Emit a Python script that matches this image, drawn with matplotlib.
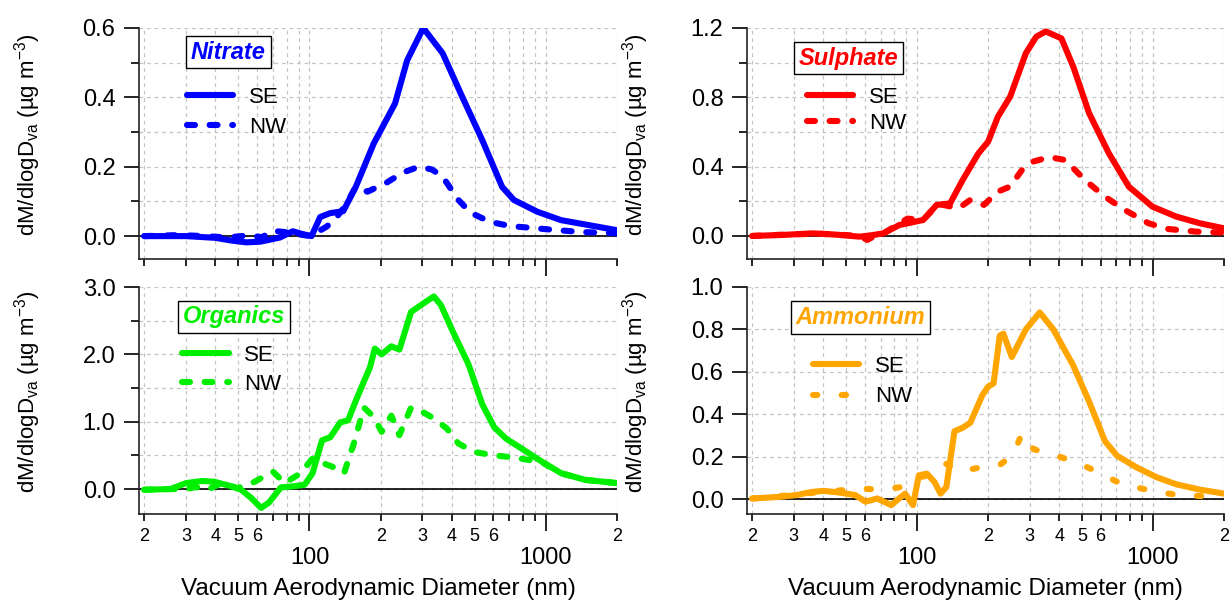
import matplotlib.pyplot as plt
import matplotlib.ticker as mticker

plt.rcParams['font.family'] = ['Liberation Sans', 'DejaVu Sans']

# size distributions, dM/dlogDva vs vacuum aerodynamic diameter (nm)
nitrate_se_d = [20, 30, 40, 47, 54, 62, 75, 85, 92, 102, 111, 122, 139, 157, 187, 230, 259,
                303, 366, 444, 538, 653, 733, 922, 1160, 2000]
nitrate_se = [0.0, 0.0, -0.005, -0.013, -0.018, -0.016, -0.004, 0.014, 0.007, 0.0, 0.055, 0.066,
              0.072, 0.142, 0.267, 0.382, 0.507, 0.600, 0.527, 0.400, 0.277, 0.142, 0.104,
              0.070, 0.046, 0.017]
nitrate_nw_d = [20, 28, 36, 45, 55, 63, 70, 78, 88, 101, 118, 127, 141, 157, 176, 213, 248,
                290, 330, 366, 427, 479, 580, 707, 1040, 1400, 2000]
nitrate_nw = [0.0, 0.003, 0.0, -0.004, 0.002, -0.003, 0.015, 0.012, 0.006, 0.0, 0.027, 0.045,
              0.085, 0.142, 0.128, 0.155, 0.183, 0.200, 0.192, 0.171, 0.104, 0.068, 0.041,
              0.029, 0.019, 0.012, 0.008]

sulphate_se_d = [20, 27, 36, 45, 57, 64, 72, 84, 106, 121, 138, 156, 182, 200, 220, 248, 289,
                 320, 351, 409, 459, 536, 650, 789, 995, 1254, 1581, 2000]
sulphate_se = [0.0, 0.006, 0.015, 0.008, -0.004, 0.004, 0.015, 0.063, 0.092, 0.179, 0.188,
               0.323, 0.477, 0.544, 0.688, 0.804, 1.054, 1.150, 1.180, 1.140, 0.977, 0.708,
               0.477, 0.285, 0.169, 0.112, 0.073, 0.044]
sulphate_nw_d = [20, 30, 40, 50, 57, 61.5, 66, 72, 91, 106, 123, 150, 168, 192, 220, 248, 278,
                 312, 364, 425, 514, 625, 759, 957, 1161, 1522, 2000]
sulphate_nw = [0.0, 0.01, 0.012, 0.005, 0.0, -0.023, 0.0, 0.015, 0.10, 0.092, 0.185, 0.16,
               0.208, 0.179, 0.256, 0.285, 0.38, 0.43, 0.455, 0.438, 0.323, 0.227, 0.15,
               0.073, 0.04, 0.025, 0.019]

organics_se_d = [20, 25.8, 30, 35, 39.4, 45.8, 51.4, 56.6, 62.4, 67.4, 75.7, 84.9, 95.3, 103,
                 113, 122.5, 135, 145.6, 157, 170, 180, 189, 202, 222, 240, 269, 303, 336,
                 360, 404, 471, 538, 604, 678, 791, 959, 1162, 1465, 2000]
organics_se = [-0.01, 0.0, 0.088, 0.12, 0.11, 0.05, -0.01, -0.13, -0.28, -0.20, 0.025, 0.04,
               0.064, 0.235, 0.724, 0.77, 0.99, 1.02, 1.31, 1.60, 1.80, 2.085, 2.0, 2.12,
               2.07, 2.63, 2.755, 2.86, 2.73, 2.34, 1.85, 1.26, 0.92, 0.75, 0.60, 0.41,
               0.235, 0.137, 0.088]
organics_nw_d = [20, 25, 30, 33, 37, 42.5, 49.6, 57.8, 70, 78.6, 91.6, 103, 115, 129.8, 140,
                 154, 170, 187, 202, 222, 240, 269, 303, 339, 381, 427, 499, 604, 733, 854,
                 959, 1162, 1465, 2000]
organics_nw = [-0.01, 0.0, 0.0, 0.03, -0.01, 0.088, 0.015, 0.098, 0.26, 0.088, 0.235, 0.455,
               0.38, 0.31, 0.235, 0.675, 1.21, 1.07, 0.85, 1.09, 0.80, 1.21, 1.14, 1.04, 0.90,
               0.675, 0.55, 0.50, 0.47, 0.43, 0.40, 0.235, 0.137, 0.088]

ammonium_se_d = [20, 26.3, 30.7, 35.8, 40.2, 47, 54.7, 60.4, 67.8, 77.6, 88.9, 96, 101.7, 110,
                 118.6, 125.7, 133, 144, 155.6, 168, 189, 200, 211, 224, 232, 252, 289, 331,
                 378, 459, 536, 625, 703, 851, 1033, 1254, 1581, 2000]
ammonium_se = [0.003, 0.011, 0.019, 0.034, 0.039, 0.031, 0.019, -0.012, 0.003, -0.028, 0.026,
               -0.028, 0.112, 0.12, 0.08, 0.026, 0.057, 0.32, 0.336, 0.36, 0.49, 0.53, 0.546,
               0.77, 0.78, 0.67, 0.80, 0.88, 0.80, 0.63, 0.46, 0.274, 0.205, 0.15, 0.104,
               0.07, 0.045, 0.026]
ammonium_nw_d = [20, 30, 40, 46, 57, 70, 86, 100, 118, 133, 152, 186, 222, 256, 278, 312, 378,
                 471, 566, 710, 870, 1080, 1300, 1630, 2000]
ammonium_nw = [0.003, 0.02, 0.035, 0.04, 0.05, 0.045, 0.057, 0.10, 0.12, 0.166, 0.13, 0.15,
               0.158, 0.21, 0.31, 0.235, 0.21, 0.174, 0.135, 0.08, 0.053, 0.031, 0.019, 0.014,
               0.019]

W, H = 1231, 601
fig = plt.figure(figsize=(W / 100, H / 100), dpi=100)


def minor_fmt(v, pos):
    # only the leading digit of 2..6 gets a label, like 2 3 4 5 6
    d = ('%g' % v)[0]
    return d if d in '23456' else ''


def panel(box, ylim, major, minor, se_d, se, nw_d, nw, color, name, name_xy,
          leg_xy, nw_dash, bottom_labels, labelspacing):
    l, t, r, b = box
    ax = fig.add_axes([l / W, 1 - b / H, (r - l) / W, (b - t) / H])
    ax.set_xscale('log')
    ax.set_xlim(19.0, 2000)
    ax.set_ylim(*ylim)
    for s in ('top', 'right'):
        ax.spines[s].set_visible(False)
    for s in ('left', 'bottom'):
        ax.spines[s].set_linewidth(1.2)
        ax.spines[s].set_color('#222222')

    ax.xaxis.set_major_locator(mticker.FixedLocator([100, 1000]))
    ax.xaxis.set_minor_locator(mticker.FixedLocator(
        [20, 30, 40, 50, 60, 70, 80, 90, 200, 300, 400, 500, 600, 700, 800, 900, 2000]))
    ax.xaxis.set_major_formatter(mticker.FuncFormatter(lambda v, p: '%d' % v))
    ax.xaxis.set_minor_formatter(mticker.FuncFormatter(minor_fmt))
    ax.yaxis.set_major_locator(mticker.MultipleLocator(major))
    if minor:
        ax.yaxis.set_minor_locator(mticker.MultipleLocator(minor))
    else:
        ax.yaxis.set_minor_locator(mticker.NullLocator())
    ax.yaxis.set_major_formatter(mticker.FormatStrFormatter('%.1f'))

    ax.tick_params(axis='x', which='major', length=12, width=1.2, pad=12, labelsize=17,
                   labelbottom=bottom_labels)
    ax.tick_params(axis='x', which='minor', length=5, width=1.2, pad=5, labelsize=13,
                   labelbottom=bottom_labels)
    ax.tick_params(axis='y', which='major', length=11, width=1.2, pad=6, labelsize=17)
    ax.tick_params(axis='y', which='minor', length=6, width=1.2)

    ax.grid(True, which='both', color='#c4c4c4', linestyle=(0, (3, 3)), linewidth=0.9)
    ax.set_axisbelow(True)
    ax.axhline(0, color='black', lw=1.2, zorder=1)

    ax.plot(se_d, se, color=color, lw=4.4, solid_capstyle='round', solid_joinstyle='round',
            label='SE', zorder=3)
    ax.plot(nw_d, nw, color=color, lw=4.4, linestyle=(0, nw_dash), dash_capstyle='round',
            label='NW', zorder=4)

    ax.text(name_xy[0], name_xy[1], name, transform=ax.transAxes, color=color, fontsize=17,
            fontweight='bold', fontstyle='italic', ha='center', va='center',
            bbox=dict(boxstyle='square,pad=0.2', facecolor='white', edgecolor='black', lw=1))
    ax.legend(loc='upper left', bbox_to_anchor=leg_xy, frameon=False, fontsize=16,
              handlelength=2.1, handletextpad=0.7, labelspacing=labelspacing,
              borderpad=0, borderaxespad=0)

    ax.set_ylabel(r'dM/dlogD$_{\mathregular{va}}$ (µg m$^{\mathregular{-3}}$)', fontsize=16)
    ax.yaxis.set_label_coords(-0.2 * 478 / (r - l), 0.54)
    if bottom_labels:
        ax.set_xlabel('Vacuum Aerodynamic Diameter (nm)', fontsize=17.5, labelpad=6)
    return ax


panel((139, 28, 617, 259), (-0.066, 0.6), 0.2, 0.1,
      nitrate_se_d, nitrate_se, nitrate_nw_d, nitrate_nw, '#0000ff', 'Nitrate',
      (0.187, 0.895), (0.1, 0.745), (1.3, 2.4), False, 0.41)
panel((747, 28, 1224, 259), (-0.133, 1.2), 0.4, 0.2,
      sulphate_se_d, sulphate_se, sulphate_nw_d, sulphate_nw, '#ff0000', 'Sulphate',
      (0.212, 0.87), (0.125, 0.745), (1.3, 2.4), False, 0.23)
panel((139, 287, 617, 514), (-0.37, 3.0), 1.0, 0.5,
      organics_se_d, organics_se, organics_nw_d, organics_nw, '#00ee00', 'Organics',
      (0.199, 0.868), (0.09, 0.745), (1.3, 2.4), True, 0.37)
panel((747, 287, 1224, 514), (-0.07, 1.0), 0.2, None,
      ammonium_se_d, ammonium_se, ammonium_nw_d, ammonium_nw, '#ffa500', 'Ammonium',
      (0.238, 0.865), (0.138, 0.695), (0.7, 4.0), True, 0.41)

fig.savefig('out.png', dpi=100)
